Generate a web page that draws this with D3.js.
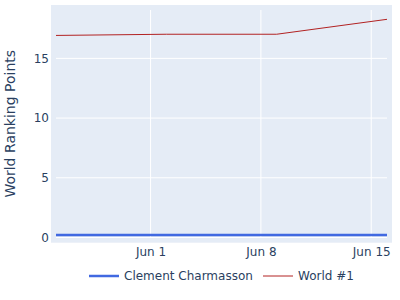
<!DOCTYPE html>
<html lang="en">
<head>
<meta charset="UTF-8">
<title>World Ranking Points</title>
<script src="https://d3js.org/d3.v7.min.js"></script>
<style>
  body { margin: 0; background: #fff; }
  text { font-family: "DejaVu Sans", sans-serif; fill: #2a3f5f; }
</style>
</head>
<body>
<svg id="chart" width="400" height="300"></svg>
<script>
const dates = ["2024-05-26", "2024-06-02", "2024-06-09", "2024-06-16"];
const playerPoints = [0.2, 0.2, 0.2, 0.2];
const worldNo1Points = [16.92, 17.02, 17.02, 18.27];
const yTicks = [0, 5, 10, 15];
const xTickDates = ["2024-06-01", "2024-06-08", "2024-06-15"];
const seriesNames = ["Clement Charmasson", "World #1"];

const parse = d3.timeParse("%Y-%m-%d");
const dateVals = dates.map(parse);

const svg = d3.select("#chart");

// plot area (inner) and its background frame
const inner = { left: 56, right: 387, top: 10, bottom: 237.5 };
const frame = { left: 51, right: 392, top: 5, bottom: 242.7 };

const x = d3.scaleTime()
    .domain(d3.extent(dateVals))
    .range([inner.left, inner.right]);

const y = d3.scaleLinear()
    .domain([0, 19.05])
    .range([inner.bottom, inner.top]);

svg.append("rect")
    .attr("x", frame.left)
    .attr("y", frame.top)
    .attr("width", frame.right - frame.left)
    .attr("height", frame.bottom - frame.top)
    .attr("fill", "#e5ecf6");

// grid
svg.append("g")
    .selectAll("line")
    .data(yTicks)
    .enter().append("line")
    .attr("x1", inner.left)
    .attr("x2", inner.right)
    .attr("y1", d => y(d))
    .attr("y2", d => y(d))
    .attr("stroke", "#fff")
    .attr("stroke-width", 1);

svg.append("g")
    .selectAll("line")
    .data(xTickDates.map(parse))
    .enter().append("line")
    .attr("x1", d => x(d))
    .attr("x2", d => x(d))
    .attr("y1", inner.top)
    .attr("y2", inner.bottom)
    .attr("stroke", "#fff")
    .attr("stroke-width", 1);

// axes
const yAxis = svg.append("g")
    .attr("transform", "translate(" + (frame.left - 2) + ",0)")
    .call(d3.axisLeft(y).tickValues(yTicks).tickSize(0).tickPadding(0));
yAxis.select(".domain").remove();
yAxis.selectAll("text").style("font-size", "12px").attr("fill", "#2a3f5f");

const xAxis = svg.append("g")
    .attr("transform", "translate(0," + (frame.bottom + 2) + ")")
    .call(d3.axisBottom(x).tickValues(xTickDates.map(parse))
        .tickFormat(d3.timeFormat("%b %-d")).tickSize(0).tickPadding(3));
xAxis.select(".domain").remove();
xAxis.selectAll("text").style("font-size", "12px").attr("fill", "#2a3f5f");

svg.append("text")
    .attr("transform", "rotate(-90)")
    .attr("x", -(inner.top + inner.bottom) / 2)
    .attr("y", 14.5)
    .style("text-anchor", "middle")
    .style("font-size", "14px")
    .text("World Ranking Points");

// lines
const line = d3.line()
    .x((d, i) => x(dateVals[i]))
    .y(d => y(d));

svg.append("path")
    .datum(playerPoints)
    .attr("d", line)
    .attr("fill", "none")
    .attr("stroke", "royalblue")
    .attr("stroke-width", 2.5);

svg.append("path")
    .datum(worldNo1Points)
    .attr("d", line)
    .attr("fill", "none")
    .attr("stroke", "firebrick")
    .attr("stroke-width", 1);

// legend
const legendItems = [
    { name: seriesNames[0], color: "royalblue", width: 2.5, x: 89 },
    { name: seriesNames[1], color: "firebrick", width: 1, x: 263 }
];
const legend = svg.append("g").attr("transform", "translate(0,276)");
legendItems.forEach(function(it) {
    legend.append("line")
        .attr("x1", it.x).attr("x2", it.x + 30)
        .attr("y1", 0).attr("y2", 0)
        .attr("stroke", it.color)
        .attr("stroke-width", it.width);
    legend.append("text")
        .attr("x", it.x + 35)
        .attr("y", 0)
        .attr("dy", "0.35em")
        .style("font-size", "12px")
        .text(it.name);
});
</script>
</body>
</html>
